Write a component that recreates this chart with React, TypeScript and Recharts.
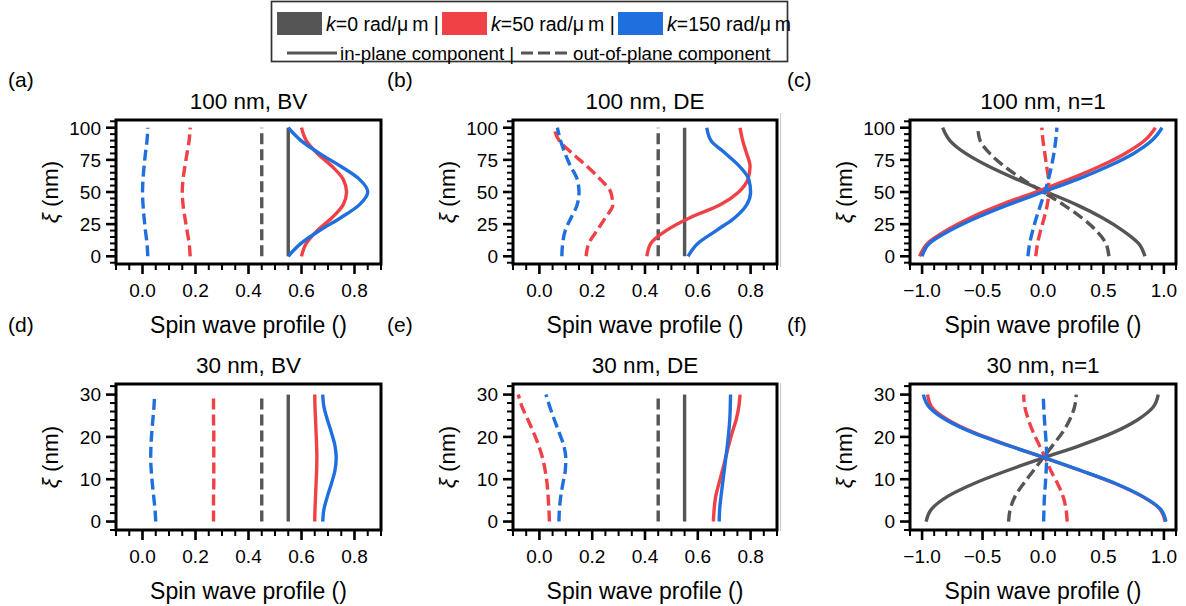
import React from 'react';
import { LineChart, Line, XAxis, YAxis, ReferenceArea } from 'recharts';

const GRAY = '#555555';
const RED = '#EF4146';
const BLUE = '#1F6FDE';
const FONT = '"Liberation Sans", Arial, Helvetica, sans-serif';

// positions across the film (nm)
const XI_100 = [0, 10, 20, 30, 40, 50, 60, 70, 80, 90, 100];
const XI_30 = [0, 3, 6, 9, 12, 15, 18, 21, 24, 27, 30];

// (a) 100 nm, BV
const A_GRAY_IN = [0.55, 0.55, 0.55, 0.55, 0.55, 0.55, 0.55, 0.55, 0.55, 0.55, 0.55];
const A_GRAY_OUT = [0.45, 0.45, 0.45, 0.45, 0.45, 0.45, 0.45, 0.45, 0.45, 0.45, 0.45];
const A_RED_IN = [0.6, 0.618, 0.66, 0.715, 0.757, 0.77, 0.757, 0.715, 0.66, 0.618, 0.6];
const A_RED_OUT = [0.18, 0.176, 0.168, 0.16, 0.153, 0.15, 0.153, 0.16, 0.168, 0.176, 0.18];
const A_BLUE_IN = [0.55, 0.598, 0.668, 0.748, 0.818, 0.85, 0.818, 0.748, 0.668, 0.598, 0.55];
const A_BLUE_OUT = [0.02, 0.017, 0.011, 0.006, 0.002, 0.0, 0.002, 0.006, 0.011, 0.017, 0.02];

// (b) 100 nm, DE
const B_GRAY_IN = [0.55, 0.55, 0.55, 0.55, 0.55, 0.55, 0.55, 0.55, 0.55, 0.55, 0.55];
const B_GRAY_OUT = [0.45, 0.45, 0.45, 0.45, 0.45, 0.45, 0.45, 0.45, 0.45, 0.45, 0.45];
const B_RED_IN = [0.407, 0.422, 0.48, 0.57, 0.685, 0.755, 0.79, 0.798, 0.785, 0.77, 0.76];
const B_RED_OUT = [0.177, 0.187, 0.218, 0.25, 0.278, 0.27, 0.23, 0.18, 0.125, 0.075, 0.055];
const B_BLUE_IN = [0.563, 0.6, 0.67, 0.74, 0.785, 0.8, 0.793, 0.758, 0.705, 0.65, 0.634];
const B_BLUE_OUT = [0.085, 0.088, 0.098, 0.12, 0.143, 0.15, 0.143, 0.118, 0.097, 0.08, 0.068];

// (c) 100 nm, n=1
const C_GRAY_IN = [0.843, 0.79, 0.66, 0.49, 0.28, 0.03, -0.22, -0.45, -0.64, -0.77, -0.83];
const C_GRAY_OUT = [0.545, 0.52, 0.44, 0.32, 0.17, 0.0, -0.17, -0.32, -0.44, -0.52, -0.54];
const C_RED_IN = [-1.02, -0.955, -0.8, -0.6, -0.35, -0.06, 0.22, 0.47, 0.68, 0.84, 0.93];
const C_RED_OUT = [-0.06, -0.045, -0.02, 0.01, 0.035, 0.048, 0.045, 0.03, 0.015, 0.0, -0.01];
const C_BLUE_IN = [-1.0, -0.94, -0.77, -0.55, -0.29, 0.0, 0.29, 0.54, 0.75, 0.9, 0.985];
const C_BLUE_OUT = [-0.125, -0.11, -0.085, -0.055, -0.02, 0.015, 0.045, 0.07, 0.09, 0.105, 0.115];

// (d) 30 nm, BV
const D_GRAY_IN = [0.55, 0.55, 0.55, 0.55, 0.55, 0.55, 0.55, 0.55, 0.55, 0.55, 0.55];
const D_GRAY_OUT = [0.45, 0.45, 0.45, 0.45, 0.45, 0.45, 0.45, 0.45, 0.45, 0.45, 0.45];
const D_RED_IN = [0.65, 0.651, 0.653, 0.655, 0.657, 0.658, 0.657, 0.655, 0.653, 0.651, 0.65];
const D_RED_OUT = [0.268, 0.268, 0.268, 0.269, 0.269, 0.269, 0.269, 0.269, 0.268, 0.268, 0.268];
const D_BLUE_IN = [0.68, 0.685, 0.698, 0.713, 0.726, 0.731, 0.726, 0.713, 0.698, 0.685, 0.68];
const D_BLUE_OUT = [0.05, 0.047, 0.042, 0.037, 0.033, 0.031, 0.032, 0.035, 0.039, 0.043, 0.046];

// (e) 30 nm, DE
const E_GRAY_IN = [0.55, 0.55, 0.55, 0.55, 0.55, 0.55, 0.55, 0.55, 0.55, 0.55, 0.55];
const E_GRAY_OUT = [0.45, 0.45, 0.45, 0.45, 0.45, 0.45, 0.45, 0.45, 0.45, 0.45, 0.45];
const E_RED_IN = [0.659, 0.662, 0.668, 0.68, 0.693, 0.705, 0.717, 0.73, 0.745, 0.755, 0.76];
const E_RED_OUT = [0.038, 0.036, 0.033, 0.029, 0.022, 0.012, -0.003, -0.022, -0.043, -0.065, -0.08];
const E_BLUE_IN = [0.681, 0.683, 0.688, 0.694, 0.7, 0.706, 0.712, 0.717, 0.721, 0.723, 0.724];
const E_BLUE_OUT = [0.074, 0.076, 0.081, 0.089, 0.098, 0.1, 0.092, 0.075, 0.057, 0.04, 0.025];

// (f) 30 nm, n=1
const F_GRAY_IN = [-0.967, -0.92, -0.785, -0.57, -0.3, 0.0, 0.31, 0.58, 0.78, 0.91, 0.953];
const F_GRAY_OUT = [-0.285, -0.27, -0.23, -0.16, -0.08, 0.0, 0.08, 0.16, 0.22, 0.26, 0.275];
const F_RED_IN = [1.01, 0.965, 0.815, 0.595, 0.315, 0.02, -0.285, -0.57, -0.785, -0.92, -0.955];
const F_RED_OUT = [0.2, 0.19, 0.165, 0.12, 0.065, 0.02, -0.03, -0.08, -0.12, -0.15, -0.16];
const F_BLUE_IN = [1.017, 0.97, 0.82, 0.6, 0.32, 0.02, -0.29, -0.58, -0.8, -0.94, -0.99];
const F_BLUE_OUT = [0.005, 0.008, 0.012, 0.02, 0.026, 0.03, 0.027, 0.02, 0.012, 0.006, 0.002];

// ticks
const X_MAJOR_PROFILE = [0, 0.2, 0.4, 0.6, 0.8];
const X_MINOR_PROFILE = [-0.1, -0.05, 0, 0.05, 0.1, 0.15, 0.2, 0.25, 0.3, 0.35, 0.4, 0.45, 0.5, 0.55, 0.6, 0.65, 0.7, 0.75, 0.8, 0.85, 0.9];
const X_MAJOR_N1 = [-1, -0.5, 0, 0.5, 1];
const X_MINOR_N1 = [-1.1, -1, -0.9, -0.8, -0.7, -0.6, -0.5, -0.4, -0.3, -0.2, -0.1, 0, 0.1, 0.2, 0.3, 0.4, 0.5, 0.6, 0.7, 0.8, 0.9, 1, 1.1];
const Y_MAJOR_100 = [0, 25, 50, 75, 100];
const Y_MINOR_100 = [-5, 0, 5, 10, 15, 20, 25, 30, 35, 40, 45, 50, 55, 60, 65, 70, 75, 80, 85, 90, 95, 100, 105];
const Y_MAJOR_30 = [0, 10, 20, 30];
const Y_MINOR_30 = [-2, 0, 2, 4, 6, 8, 10, 12, 14, 16, 18, 20, 22, 24, 26, 28, 30, 32];

const K_VALUES = ['0', '50', '150'];
const K_COLORS = [GRAY, RED, BLUE];
const LEGEND_SWATCH_X = [277, 442, 618];

const Y_W = 80;
const M_TOP = 10;
const M_RIGHT = 10;
const X_H = 45;
const LW = 3.4;

const isMajor = (majors: number[], v: number) => majors.some((m) => Math.abs(m - v) < 1e-9);
const fmtX = (v: number) => (v < 0 ? '\u2212' : '') + Math.abs(v).toFixed(1);

const PANELS = [
  { id: 'a', title: '100 nm, BV', left: 116, top: 120, w: 265, h: 144, xi: XI_100, xDomain: [-0.1, 0.9], yDomain: [-6, 106], xMajor: X_MAJOR_PROFILE, xMinor: X_MINOR_PROFILE, yMajor: Y_MAJOR_100, yMinor: Y_MINOR_100,
    lines: [A_GRAY_IN, A_GRAY_OUT, A_RED_IN, A_RED_OUT, A_BLUE_IN, A_BLUE_OUT] },
  { id: 'b', title: '100 nm, DE', left: 513, top: 120, w: 264, h: 144, xi: XI_100, xDomain: [-0.1, 0.9], yDomain: [-6, 106], xMajor: X_MAJOR_PROFILE, xMinor: X_MINOR_PROFILE, yMajor: Y_MAJOR_100, yMinor: Y_MINOR_100,
    lines: [B_GRAY_IN, B_GRAY_OUT, B_RED_IN, B_RED_OUT, B_BLUE_IN, B_BLUE_OUT] },
  { id: 'c', title: '100 nm, n=1', left: 910, top: 120, w: 266, h: 144, xi: XI_100, xDomain: [-1.1, 1.1], yDomain: [-6, 106], xMajor: X_MAJOR_N1, xMinor: X_MINOR_N1, yMajor: Y_MAJOR_100, yMinor: Y_MINOR_100,
    lines: [C_GRAY_IN, C_GRAY_OUT, C_RED_IN, C_RED_OUT, C_BLUE_IN, C_BLUE_OUT] },
  { id: 'd', title: '30 nm, BV', left: 116, top: 384, w: 265, h: 146, xi: XI_30, xDomain: [-0.1, 0.9], yDomain: [-2, 32.5], xMajor: X_MAJOR_PROFILE, xMinor: X_MINOR_PROFILE, yMajor: Y_MAJOR_30, yMinor: Y_MINOR_30,
    lines: [D_GRAY_IN, D_GRAY_OUT, D_RED_IN, D_RED_OUT, D_BLUE_IN, D_BLUE_OUT] },
  { id: 'e', title: '30 nm, DE', left: 513, top: 384, w: 264, h: 146, xi: XI_30, xDomain: [-0.1, 0.9], yDomain: [-2, 32.5], xMajor: X_MAJOR_PROFILE, xMinor: X_MINOR_PROFILE, yMajor: Y_MAJOR_30, yMinor: Y_MINOR_30,
    lines: [E_GRAY_IN, E_GRAY_OUT, E_RED_IN, E_RED_OUT, E_BLUE_IN, E_BLUE_OUT] },
  { id: 'f', title: '30 nm, n=1', left: 910, top: 384, w: 266, h: 146, xi: XI_30, xDomain: [-1.1, 1.1], yDomain: [-2, 32.5], xMajor: X_MAJOR_N1, xMinor: X_MINOR_N1, yMajor: Y_MAJOR_30, yMinor: Y_MINOR_30,
    lines: [F_GRAY_IN, F_GRAY_OUT, F_RED_IN, F_RED_OUT, F_BLUE_IN, F_BLUE_OUT] },
];

const LINE_STYLE = [
  { color: GRAY, dashed: false }, { color: GRAY, dashed: true },
  { color: RED, dashed: false }, { color: RED, dashed: true },
  { color: BLUE, dashed: false }, { color: BLUE, dashed: true },
];

const Panel = ({ p }: { p: (typeof PANELS)[number] }) => {
  const xTick = (props: any) => {
    const { x, y, payload } = props;
    const major = isMajor(p.xMajor, payload.value);
    return (
      <g>
        <line x1={x} x2={x} y1={y} y2={y + (major ? 10 : 6)} stroke="#000" strokeWidth={major ? 2.6 : 2} />
        {major && (
          <text x={x} y={y + 33} textAnchor="middle" fontSize={19} fontFamily={FONT} fill="#000">{fmtX(payload.value)}</text>
        )}
      </g>
    );
  };
  const yTick = (props: any) => {
    const { x, y, payload } = props;
    const major = isMajor(p.yMajor, payload.value);
    return (
      <g>
        <line x1={x} x2={x - (major ? 10 : 6)} y1={y} y2={y} stroke="#000" strokeWidth={major ? 2.6 : 2} />
        {major && (
          <text x={x - 15} y={y + 6.8} textAnchor="end" fontSize={19} fontFamily={FONT} fill="#000">{payload.value}</text>
        )}
      </g>
    );
  };
  return (
    <div style={{ position: 'absolute', left: p.left - Y_W, top: p.top - M_TOP }}>
      <LineChart
        layout="vertical"
        width={p.w + Y_W + M_RIGHT}
        height={p.h + M_TOP + X_H}
        margin={{ top: M_TOP, right: M_RIGHT, left: 0, bottom: 0 }}
      >
        <XAxis type="number" domain={p.xDomain} allowDataOverflow ticks={p.xMinor} interval={0}
          tickSize={0} tickMargin={0} axisLine={false} tickLine={false} tick={xTick} height={X_H} />
        <YAxis type="number" dataKey="xi" domain={p.yDomain} allowDataOverflow reversed ticks={p.yMinor} interval={0}
          tickSize={0} tickMargin={0} axisLine={false} tickLine={false} tick={yTick} width={Y_W} />
        {p.lines.map((vals, i) => (
          <Line
            key={i}
            data={p.xi.map((xi, j) => ({ xi, v: vals[j] }))}
            dataKey="v"
            type="monotone"
            stroke={LINE_STYLE[i].color}
            strokeWidth={LW}
            strokeDasharray={LINE_STYLE[i].dashed ? '11 5' : undefined}
            dot={false}
            activeDot={false}
            isAnimationActive={false}
          />
        ))}
        <ReferenceArea x1={p.xDomain[0]} x2={p.xDomain[1]} y1={p.yDomain[0]} y2={p.yDomain[1]}
          fill="none" stroke="#000" strokeWidth={3} ifOverflow="visible" />
      </LineChart>
    </div>
  );
};

const LABEL_X = { a: 8, b: 387, c: 787, d: 8, e: 387, f: 787 } as Record<string, number>;

export default function App() {
  return (
    <div style={{ position: 'absolute', left: 0, top: 0, width: 1186, height: 606, background: '#fff', fontFamily: FONT }}>
      {PANELS.map((p) => <Panel key={p.id} p={p} />)}
      {/* faint separator lines at the left of (c) and (f) */}
      <div style={{ position: 'absolute', left: 780, top: 113, width: 1, height: 154, background: '#c8c8c8' }} />
      <div style={{ position: 'absolute', left: 780, top: 383, width: 1, height: 148, background: '#c8c8c8' }} />
      <svg width={1186} height={606} style={{ position: 'absolute', left: 0, top: 0, pointerEvents: 'none' }} fontFamily={FONT}>
        {PANELS.map((p) => (
          <g key={p.id}>
            <text x={p.left + p.w / 2} y={p.top - 11.5} textAnchor="middle" fontSize={22.5}>{p.title}</text>
            <text x={LABEL_X[p.id]} y={p.top < 200 ? 87 : 332} fontSize={21}>({p.id})</text>
            <text x={p.left + p.w / 2} y={p.top + p.h + 68.5} textAnchor="middle" fontSize={23}>Spin wave profile ()</text>
            <text transform={`translate(${p.left - 58}, ${p.top + p.h / 2}) rotate(-90)`} textAnchor="middle" fontSize={22.5}>
              <tspan fontStyle="italic">ξ</tspan> (nm)
            </text>
          </g>
        ))}
        {/* legend */}
        <rect x={271.5} y={1.5} width={516} height={60} fill="#fff" stroke="#333" strokeWidth={1.7} />
        {K_VALUES.map((k, i) => (
          <g key={k}>
            <rect x={LEGEND_SWATCH_X[i]} y={12} width={45} height={23} fill={K_COLORS[i]} />
            <text x={LEGEND_SWATCH_X[i] + 49} y={31} fontSize={19.5}>
              <tspan fontStyle="italic">k</tspan>{`=${k} rad/\u03bc\u2009m${i < K_VALUES.length - 1 ? ' |' : ''}`}
            </text>
          </g>
        ))}
        <line x1={287} x2={337} y1={53} y2={53} stroke={GRAY} strokeWidth={3} />
        <text x={340} y={60} fontSize={18.7}>in-plane component |</text>
        <line x1={521} x2={567} y1={53} y2={53} stroke={GRAY} strokeWidth={3} strokeDasharray="12 5" />
        <text x={573} y={60} fontSize={18.7}>out-of-plane component</text>
      </svg>
    </div>
  );
}
